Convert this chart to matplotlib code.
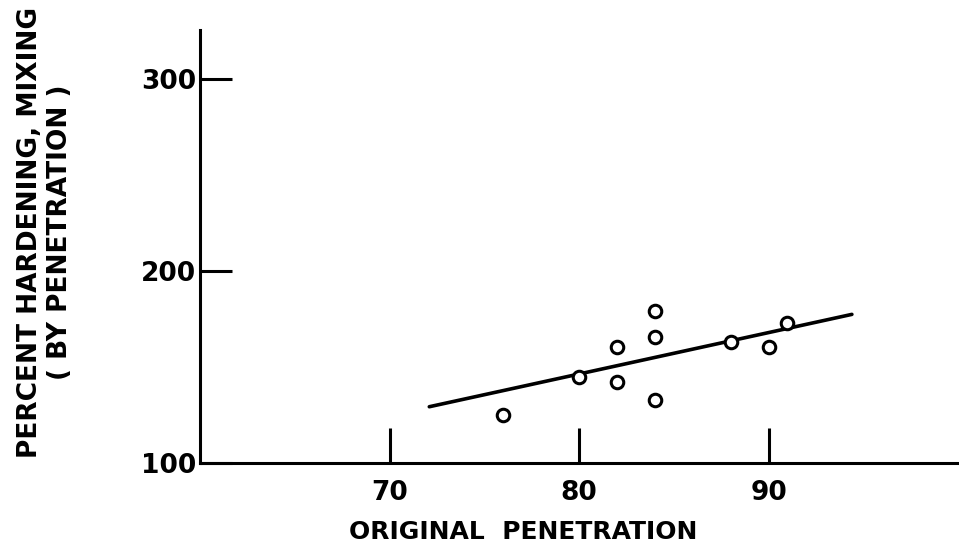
import matplotlib
matplotlib.use("Agg")
import matplotlib.pyplot as plt

# data
orig_pen = [76, 80, 82, 82, 84, 84, 84, 88, 90, 91]
pct_hardening = [125, 144.6, 160.6, 142, 179.3, 165.8, 132.8, 163, 160.4, 172.8]
fit_x = [72.1, 94.4]
fit_y = [129.3, 177.4]

x_ticks = [70, 80, 90]
y_ticks = [100, 200, 300]

plt.rcParams["font.family"] = ["DejaVu Sans"]

fig = plt.figure(figsize=(9.59, 5.55), dpi=100)
ax = fig.add_axes([200 / 959, 92 / 555, 758 / 959, 433 / 555])

ax.plot(fit_x, fit_y, color="black", lw=2.6, solid_capstyle="round")
ax.plot(orig_pen, pct_hardening, "o", ms=9, mfc="white", mec="black", mew=2.2)

ax.set_xlim(60, 100)
ax.set_ylim(100, 325.5)
ax.set_xticks(x_ticks)
ax.set_yticks(y_ticks)

for s in ("top", "right"):
    ax.spines[s].set_visible(False)
for s in ("left", "bottom"):
    ax.spines[s].set_linewidth(2.2)

ax.tick_params(axis="x", direction="in", length=25, width=2.2, pad=12)
ax.tick_params(axis="y", direction="in", length=23, width=2.2, pad=3)
for lab in ax.get_xticklabels() + ax.get_yticklabels():
    lab.set_fontsize(19)
    lab.set_fontweight("bold")

fig.text(523 / 959, 1 - 532 / 555, "ORIGINAL  PENETRATION", ha="center", va="center",
         fontsize=18, fontweight="bold")
fig.text(45 / 959, 1 - 232 / 555, "PERCENT HARDENING, MIXING\n( BY PENETRATION )",
         rotation=90, ha="center", va="center", multialignment="center",
         fontsize=19, fontweight="bold", linespacing=1.2)

fig.savefig("out.png", dpi=100)
